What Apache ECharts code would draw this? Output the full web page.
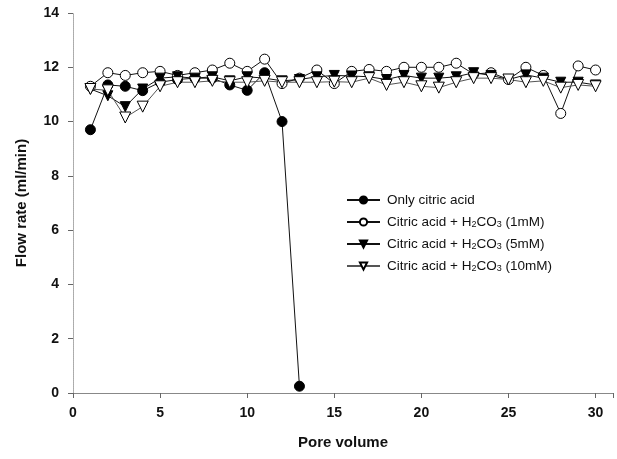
<!DOCTYPE html>
<html><head><meta charset="utf-8">
<script src="https://cdn.jsdelivr.net/npm/echarts@6/dist/echarts.min.js"></script>
<style>html,body{margin:0;padding:0;background:#fff}#c{width:617px;height:459px}</style>
</head><body><div id="c"></div>
<script>
const poreVolume = [1,2,3,4,5,6,7,8,9,10,11,12,13,14,15,16,17,18,19,20,21,22,23,24,25,26,27,28,29,30];
const onlyCitric = [9.7,11.35,11.3,11.14,11.45,11.55,11.6,11.6,11.35,11.15,11.8,10.0,0.25];
const h2co3_1mM = [11.3,11.8,11.7,11.8,11.85,11.7,11.8,11.9,12.15,11.85,12.3,11.4,11.6,11.9,11.4,11.85,11.92,11.85,12.0,12.0,12.0,12.15,11.75,11.8,11.55,12.0,11.7,10.3,12.05,11.9];
const h2co3_5mM = [11.2,10.95,10.55,11.2,11.6,11.65,11.6,11.65,11.5,11.65,11.6,11.5,11.55,11.65,11.7,11.68,11.65,11.55,11.7,11.6,11.6,11.65,11.8,11.7,11.55,11.72,11.6,11.45,11.45,11.35];
const h2co3_10mM = [11.2,11.15,10.15,10.55,11.3,11.45,11.45,11.5,11.45,11.45,11.5,11.45,11.45,11.45,11.47,11.45,11.6,11.35,11.45,11.3,11.25,11.45,11.6,11.6,11.55,11.45,11.5,11.25,11.35,11.3];
const seriesNames = ['Only citric acid','Citric acid + H2CO3 (1mM)','Citric acid + H2CO3 (5mM)','Citric acid + H2CO3 (10mM)'];
const xTicks = [0,5,10,15,20,25,30];
const yTicks = [0,2,4,6,8,10,12,14];

function pairs(vals){ return vals.map((v,i)=>[poreVolume[i], v]); }

const font = 'Arial, "Liberation Sans", sans-serif';
const chart = echarts.init(document.getElementById('c'), null, {renderer:'canvas'});
const lbl = {fontFamily: font, fontWeight:'bold', fontSize:14, color:'#111'};
chart.setOption({
  animation:false,
  backgroundColor:'#fff',
  grid:{left:73, right:4, top:13, bottom:66},
  xAxis:[{
    type:'value', min:0, max:31, interval:5,
    name:'Pore volume', nameLocation:'middle', nameGap:42,
    nameTextStyle:{fontFamily:font, fontWeight:'bold', fontSize:15, color:'#111'},
    axisLine:{lineStyle:{color:'#888', width:1}},
    axisTick:{show:true, length:5, lineStyle:{color:'#666'}},
    axisLabel:Object.assign({margin:13, formatter:v=> xTicks.includes(v)? String(v):''}, lbl),
    splitLine:{show:false}
  },{
    type:'value', position:'top', min:0, max:31,
    axisLine:{show:true, lineStyle:{color:'#888', width:1}},
    axisTick:{show:false}, axisLabel:{show:false}, splitLine:{show:false}
  }],
  yAxis:[{
    type:'value', min:0, max:14, interval:2,
    name:'Flow rate (ml/min)', nameLocation:'middle', nameGap:44,
    nameTextStyle:{fontFamily:font, fontWeight:'bold', fontSize:15, color:'#111'},
    axisLine:{show:true, lineStyle:{color:'#999', width:1, type:'dotted'}},
    axisTick:{show:true, length:5, lineStyle:{color:'#666'}},
    axisLabel:Object.assign({margin:14, formatter:v=> yTicks.includes(v)? String(v):''}, lbl),
    splitLine:{show:false}
  },{
    type:'value', position:'right', min:0, max:14,
    axisLine:{show:true, lineStyle:{color:'#aaa', width:1, type:'dotted'}},
    axisTick:{show:false}, axisLabel:{show:false}, splitLine:{show:false}
  }],
  legend:{
    orient:'vertical', left:341, top:188, itemWidth:33, itemHeight:9, itemGap:8,
    textStyle:{fontFamily:font, fontSize:13.5, color:'#111', lineHeight:14, padding:[0,0,0,2],
      rich:{s:{fontFamily:font, fontSize:9, color:'#111', verticalAlign:'bottom', padding:[6,0,0,0]}}},
    formatter:n=>n.replace('H2CO3','H{s|2}CO{s|3}'),
    data:seriesNames
  },
  series:[
    {name:seriesNames[0], type:'line', data:pairs(onlyCitric), symbol:'circle', symbolSize:10,
      lineStyle:{color:'#111', width:1}, itemStyle:{color:'#000', borderColor:'#000', borderWidth:1}},
    {name:seriesNames[1], type:'line', data:pairs(h2co3_1mM), symbol:'circle', symbolSize:10,
      lineStyle:{color:'#111', width:1}, itemStyle:{color:'#fff', borderColor:'#000', borderWidth:1}},
    {name:seriesNames[2], type:'line', data:pairs(h2co3_5mM), symbol:'triangle', symbolRotate:180, symbolSize:10,
      lineStyle:{color:'#111', width:1}, itemStyle:{color:'#000', borderColor:'#000', borderWidth:1}},
    {name:seriesNames[3], type:'line', data:pairs(h2co3_10mM), symbol:'triangle', symbolRotate:180, symbolSize:11,
      lineStyle:{color:'#555', width:1}, itemStyle:{color:'#fff', borderColor:'#000', borderWidth:1}}
  ]
});
</script></body></html>
